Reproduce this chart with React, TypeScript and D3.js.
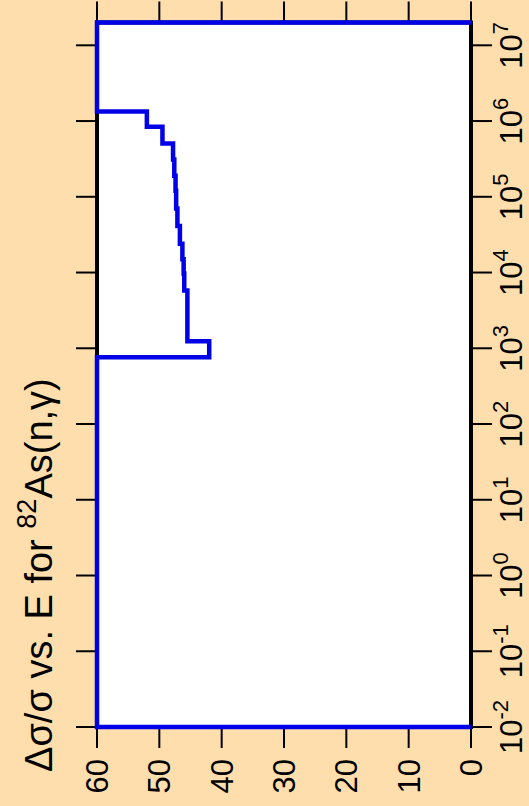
import * as d3 from "d3";

// energy group boundaries (eV), top to bottom
const energyBounds = [2e7, 1.34e6, 8.4e5, 5.05e5, 3.1e5, 1.9e5, 1.2e5, 7e4, 4.1e4, 2.4e4, 1.5e4, 9.7e3, 5.8e3, 1.24e3, 7.6e2, 1e-2];
// relative uncertainty (%) in each group, same order
const relUncert = [60, 52.0, 49.5, 47.8, 47.6, 47.4, 47.3, 47.1, 46.7, 46.3, 46.1, 46.0, 45.5, 42.0, 60];

const valueTicks = [60, 50, 40, 30, 20, 10, 0];
const decadeExps = [-2, -1, 0, 1, 2, 3, 4, 5, 6, 7];

const W = 529;
const H = 806;
const font = "'Liberation Sans', Arial, Helvetica, sans-serif";

export default function App() {
  const x = d3.scaleLinear().domain([60, 0]).range([97, 471]);
  const y = d3.scaleLog().domain([1e-2, 2e7]).range([727, 22.5]);

  const [x0, x1] = x.range();
  const [y1, y0] = y.range();

  // step outline: start at 0 on the bottom edge, walk up through the groups, end at 0 on top
  const pts: [number, number][] = [[0, energyBounds[energyBounds.length - 1]]];
  for (let i = relUncert.length - 1; i >= 0; i--) {
    pts.push([relUncert[i], energyBounds[i + 1]]);
    pts.push([relUncert[i], energyBounds[i]]);
  }
  pts.push([0, energyBounds[0]]);

  const line = d3
    .line<[number, number]>()
    .x((d) => x(d[0]))
    .y((d) => y(d[1]));

  return (
    <svg
      width={W}
      height={H}
      style={{ position: "absolute", left: 0, top: 0, background: "#FFDEAD" }}
    >
      <rect x={0} y={0} width={W} height={H} fill="#FFDEAD" />
      <rect x={x0} y={y0} width={x1 - x0} height={y1 - y0} fill="#fff" stroke="#000" strokeWidth={4} />

      {/* value axis: ticks top and bottom */}
      {valueTicks.map((v) => (
        <g key={"v" + v}>
          <line x1={x(v)} x2={x(v)} y1={y0} y2={y0 - 21} stroke="#000" strokeWidth={2} />
          <line x1={x(v)} x2={x(v)} y1={y1} y2={y1 + 21} stroke="#000" strokeWidth={2} />
          <text
            transform={`translate(${x(v) + 11},${y1 + 32}) rotate(-90)`}
            textAnchor="end"
            fontFamily={font}
            fontSize={31}
            fill="#000"
          >
            {v}
          </text>
        </g>
      ))}

      {/* energy axis: ticks left and right */}
      {decadeExps.map((e) => {
        const yy = y(Math.pow(10, e));
        return (
          <g key={"e" + e}>
            <line x1={x0} x2={x0 - 21} y1={yy} y2={yy} stroke="#000" strokeWidth={2} />
            <line x1={x1} x2={x1 + 21} y1={yy} y2={yy} stroke="#000" strokeWidth={2} />
            <text
              transform={`translate(${x1 + 51},${yy}) rotate(-90)`}
              textAnchor="middle"
              fontFamily={font}
              fontSize={31}
              fill="#000"
            >
              10
              <tspan fontSize={22} dy={-14}>
                {e}
              </tspan>
            </text>
          </g>
        );
      })}

      <path d={line(pts) ?? ""} fill="none" stroke="#0000E6" strokeWidth={4.5} strokeLinejoin="miter" />

      <text
        transform={`translate(52,772) rotate(-90)`}
        textAnchor="start"
        fontFamily={font}
        fontSize={38}
        fill="#000"
      >
        Δσ/σ vs. E for{" "}
        <tspan fontSize={27} dy={-16}>
          82
        </tspan>
        <tspan dy={16}>As(n,γ)</tspan>
      </text>
    </svg>
  );
}
